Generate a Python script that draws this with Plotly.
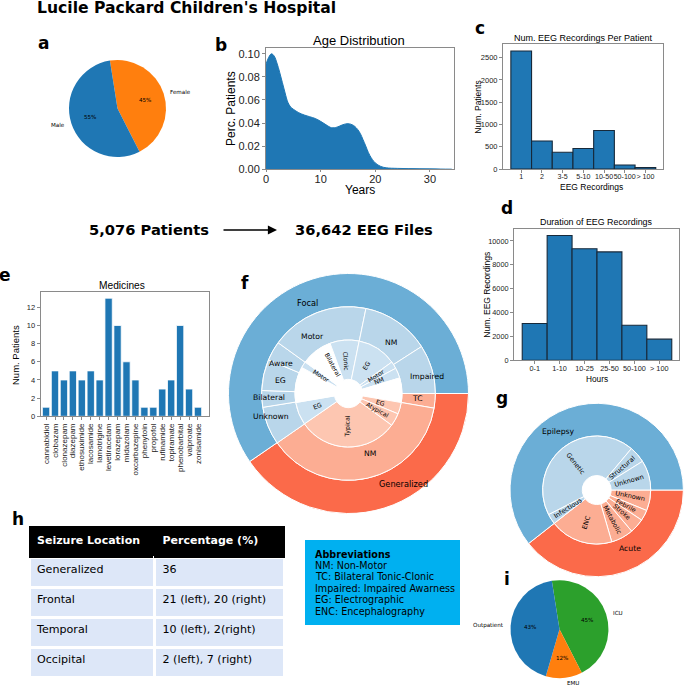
import math
import plotly.graph_objects as go

W = H = 685

# ---------------- data ----------------
TITLE = "Lucile Packard Children's Hospital"

sex_labels = ["Male", "Female"]
sex_pct = [55, 45]

age_years = [0, 0.5, 1, 1.5, 2, 2.5, 3, 3.5, 4, 4.5, 5, 6, 7, 8, 9, 10, 11, 12, 13, 14,
             15, 16, 17, 18, 19, 20, 21, 22, 24, 26, 28, 30, 32, 34]
age_density = [0.091, 0.097, 0.100, 0.098, 0.092, 0.084, 0.075, 0.066, 0.058, 0.054, 0.052,
               0.049, 0.047, 0.0455, 0.044, 0.0415, 0.0385, 0.036, 0.0365, 0.0385, 0.0395,
               0.038, 0.033, 0.023, 0.012, 0.0055, 0.0025, 0.0013, 0.0008, 0.0006, 0.0005,
               0.0004, 0.0002, 0.0001]

recs_cats = ["1", "2", "3-5", "5-10", "10-50", "50-100", "> 100"]
recs_patients = [2650, 630, 375, 460, 865, 90, 35]

dur_cats = ["0-1", "1-10", "10-25", "25-50", "50-100", "> 100"]
dur_counts = [3080, 10450, 9350, 9080, 2940, 1770]

med_names = ["cannabidiol", "clobazam", "clonazepam", "diazepam", "ethosuximide", "lacosamide",
             "lamotrigine", "levetiracetam", "lorazepam", "midazolam", "oxcarbazepine",
             "phenytoin", "propofol", "rufinamide", "topiramate", "phenobarbital", "valproate",
             "zonisamide"]
med_counts = [1, 5, 4, 5, 4, 5, 4, 13, 10, 6, 4, 1, 1, 3, 4, 10, 3, 1]

# panel f: nested seizure types (outer ring = level 1)
f_outer_labels = ["Focal", "Generalized"]
f_outer_vals = [59.6, 40.4]
f_mid_labels = ["Impaired", "NM", "Motor", "Aware", "EG", "Bilateral", "Unknown", "NM", "TC"]
f_mid_vals = [9.1, 12.7, 18.3, 3.6, 5.8, 3.1, 7.1, 37.7, 2.7]
f_mid_group = ["F", "F", "F", "F", "F", "F", "F", "G", "G"]
f_in_labels = ["", "NM", "Motor", "EG", "Clonic", "Bilateral", "", "Motor", "", "EG",
               "Typical", "Atypical", "EG", ""]
f_in_vals = [4.7, 3.1, 2.2, 11.8, 8.8, 4.7, 4.7, 1.9, 10.8, 6.9, 30.3, 3.9, 3.5, 2.7]
f_in_group = ["W", "F", "F", "F", "F", "W", "W", "F", "W", "F", "G", "G", "G", "W"]

# panel g: epilepsy vs acute aetiologies
g_outer_labels = ["Epilepsy", "Acute"]
g_outer_vals = [60.6, 39.4]
g_in_labels = ["Unknown", "Structural", "Genetic", "Infectious", "ENC", "Metabolic", "Stroke",
               "Febrile", "Unknown"]
g_in_vals = [8.9, 5.0, 43.6, 3.1, 18.9, 6.7, 4.4, 3.2, 6.2]
g_in_group = ["F", "F", "F", "F", "G", "G", "G", "G", "G"]

# panel i: recording location
loc_labels = ["Outpatient", "EMU", "ICU"]
loc_pct = [43, 12, 45]

# panel h: table
table_locations = ["Generalized", "Frontal", "Temporal", "Occipital"]
table_percent = ["36", "21 (left), 20 (right)", "10 (left), 2(right)", "2 (left), 7 (right)"]

abbreviations = ["NM: Non-Motor", "TC: Bilateral Tonic-Clonic", "Impaired: Impaired Awarness",
                 "EG: Electrographic", "ENC: Encephalography"]

n_patients = "5,076 Patients"
n_files = "36,642 EEG Files"

# ---------------- style ----------------
BLUE = "#1f77b4"
ORANGE = "#ff7f0e"
GREEN = "#2ca02c"
OUT_COL = {"F": "#6baed6", "G": "#fb6a4a"}
MID_COL = {"F": "#b9d6ea", "G": "#fcad93", "W": "white"}
IN_COL = {"F": "#cbe1f1", "G": "#fdc6b1", "W": "white"}
SANS = "Liberation Sans, Arial, sans-serif"
DV = "DejaVu Sans, sans-serif"
GRAY = "#8a8a8a"


def X(p):
    return p / W


def Y(p):
    return 1 - p / H


def polar_pt(cx, cy, r, deg):
    t = math.radians(deg)
    return X(cx + r * math.cos(t)), Y(cy - r * math.sin(t))


def mids(vals, start):
    tot = float(sum(vals))
    out, a = [], start
    for v in vals:
        s = 360.0 * v / tot
        out.append(a + s / 2)
        a += s
    return out


fig = go.Figure()
ann = []


def text(x, y, s, size, family=DV, xa="center", ya="middle", angle=0, color="black", bold=False):
    ann.append(dict(x=X(x), y=Y(y), xref="paper", yref="paper", text=("<b>%s</b>" % s) if bold else s,
                    showarrow=False, xanchor=xa, yanchor=ya, textangle=angle,
                    font=dict(size=size, family=family, color=color)))


def pie_ring(vals, colors, cx, cy, r_out, r_in, start_deg, lw=1.0):
    """Slices run counterclockwise from start_deg (measured ccw from 3 o'clock)."""
    fig.add_trace(go.Pie(values=list(reversed(vals)),
                         marker=dict(colors=list(reversed(colors)), line=dict(color="white", width=lw)),
                         hole=(r_in / r_out) if r_in else 0, sort=False, direction="clockwise",
                         rotation=90 - start_deg, textinfo="none", hoverinfo="skip", showlegend=False,
                         domain=dict(x=[X(cx - r_out), X(cx + r_out)], y=[Y(cy + r_out), Y(cy - r_out)])))


def flat_labels(labels, vals, cx, cy, r, start, size):
    for lab, m in zip(labels, mids(vals, start)):
        if not lab:
            continue
        x, y = polar_pt(cx, cy, r, m)
        ann.append(dict(x=x, y=y, xref="paper", yref="paper", text=lab, showarrow=False,
                        xanchor="left" if math.cos(math.radians(m)) > 0 else "right",
                        yanchor="middle", font=dict(size=size, family=DV, color="black")))


def radial_labels(labels, vals, cx, cy, r, start, size):
    for lab, m in zip(labels, mids(vals, start)):
        if not lab:
            continue
        x, y = polar_pt(cx, cy, r, m)
        ang = -m if math.cos(math.radians(m)) > 0 else 180 - m
        ang = (ang + 180) % 360 - 180
        ann.append(dict(x=x, y=y, xref="paper", yref="paper", text=lab, showarrow=False,
                        xanchor="center", yanchor="middle", textangle=ang,
                        font=dict(size=size, family=DV, color="black")))


def simple_pie(labels, vals, colors, cx, cy, r, start_deg):
    pie_ring(vals, colors, cx, cy, r, 0, start_deg, lw=0)
    for lab, v, m in zip(labels, vals, mids(vals, start_deg)):
        x, y = polar_pt(cx, cy, 1.1 * r, m)
        ann.append(dict(x=x, y=y, xref="paper", yref="paper", text=lab, showarrow=False,
                        xanchor="left" if math.cos(math.radians(m)) > 0 else "right",
                        yanchor="middle", font=dict(size=5.6, family=DV, color="black")))
        x, y = polar_pt(cx, cy, 0.6 * r, m)
        ann.append(dict(x=x, y=y, xref="paper", yref="paper", text="%d%%" % v, showarrow=False,
                        xanchor="center", yanchor="middle", font=dict(size=5.6, family=DV, color="black")))


# ---- panel a
simple_pie(sex_labels, sex_pct, [BLUE, ORANGE], 117.5, 108.5, 48.5, 99)

# ---- panel b
fig.add_trace(go.Scatter(x=age_years, y=age_density, mode="lines", fill="tozeroy",
                         line=dict(color=BLUE, width=1, shape="spline"), fillcolor=BLUE,
                         hoverinfo="skip", showlegend=False, xaxis="x", yaxis="y"))

# ---- panel c
fig.add_trace(go.Bar(x=recs_cats, y=recs_patients, width=1,
                     marker=dict(color=BLUE, line=dict(color="#17293a", width=1.1)),
                     hoverinfo="skip", showlegend=False, xaxis="x2", yaxis="y2"))

# ---- panel d
fig.add_trace(go.Bar(x=dur_cats, y=dur_counts, width=1,
                     marker=dict(color=BLUE, line=dict(color="#17293a", width=1.1)),
                     hoverinfo="skip", showlegend=False, xaxis="x3", yaxis="y3"))

# ---- panel e
fig.add_trace(go.Bar(x=med_names, y=med_counts, width=0.82,
                     marker=dict(color=BLUE, line=dict(color="white", width=0.8)),
                     hoverinfo="skip", showlegend=False, xaxis="x4", yaxis="y4"))

# ---- panel f
FCX, FCY = 348.5, 393.5
F_R = [14.2, 53.5, 86.8, 120]
pie_ring(f_outer_vals, [OUT_COL[g] for g in ["F", "G"]], FCX, FCY, F_R[3], F_R[2], 0)
pie_ring(f_mid_vals, [MID_COL[g] for g in f_mid_group], FCX, FCY, F_R[2], F_R[1], 0)
pie_ring(f_in_vals, [IN_COL[g] for g in f_in_group], FCX, FCY, F_R[1], F_R[0], 0)
flat_labels(f_outer_labels, f_outer_vals, FCX, FCY, 95, 0, 8.2)
flat_labels(f_mid_labels, f_mid_vals, FCX, FCY, 61.5, 0, 7.7)
radial_labels(f_in_labels, f_in_vals, FCX, FCY, 33, 0, 6.2)

# ---- panel g
GCX, GCY = 596.7, 490
G_R = [14.5, 54, 86.7]
pie_ring(g_outer_vals, [OUT_COL[g] for g in ["F", "G"]], GCX, GCY, G_R[2], G_R[1], 0)
pie_ring(g_in_vals, [MID_COL[g] for g in g_in_group], GCX, GCY, G_R[1], G_R[0], 0)
flat_labels(g_outer_labels, g_outer_vals, GCX, GCY, 61.6, 0, 7.7)
radial_labels(g_in_labels, g_in_vals, GCX, GCY, 33.5, 0, 6.5)

# ---- panel i
simple_pie(loc_labels, loc_pct, [BLUE, ORANGE, GREEN], 559.5, 629.2, 49, 99)

# ---- panel h table
fig.add_trace(go.Table(
    domain=dict(x=[X(29), X(285)], y=[Y(682), Y(526)]),
    columnwidth=[126, 130],
    header=dict(values=["<b>Seizure Location</b>", "<b>Percentage (%)</b>"], fill_color="black",
                line=dict(color="black", width=1), align="left", height=31,
                font=dict(color="white", size=11, family=DV)),
    cells=dict(values=[table_locations, table_percent], fill_color="#dde7f8",
               line=dict(color="white", width=3), align="left", height=30,
               font=dict(color="black", size=11.1, family=DV))))

# ---- texts
text(187, 8.5, TITLE, 15.6, bold=True)
for lab, (lx, ly) in zip("abcdefghi", [(43, 43), (220.5, 45), (480, 28), (506.7, 207.5), (5, 275),
                                        (245, 282.5), (501.7, 398), (17.5, 519), (507, 579)]):
    text(lx, ly, lab, 17, bold=True)

text(148.5, 229, n_patients, 14.7, bold=True)
text(364.3, 229, n_files, 14.7, bold=True)
ann.append(dict(x=X(277), y=Y(230), xref="paper", yref="paper", ax=-55, ay=0, text="",
                showarrow=True, arrowhead=2, arrowsize=1.4, arrowwidth=1.3, arrowcolor="black"))

# panel titles / axis titles
text(359, 40, "Age Distribution", 13, SANS)
text(360, 190, "Years", 12, SANS)
text(231.7, 108.3, "Perc. Patients", 12, SANS, angle=-90)

text(583, 38, "Num. EEG Recordings Per Patient", 9, SANS)
text(591.7, 186.5, "EEG Recordings", 8.5, SANS)
text(478, 106.7, "Num. Patients", 8.5, SANS, angle=-90)

text(596.7, 222, "Duration of EEG Recordings", 8.9, SANS)
text(596.7, 378.5, "Hours", 8.3, SANS)
text(486.7, 295, "Num. EEG Recordings", 8.5, SANS, angle=-90)

text(121.7, 285.7, "Medicines", 10.2, SANS)
text(15, 355, "Num. Patients", 9.5, SANS, angle=-90)

# abbreviations box
fig.add_shape(type="rect", xref="paper", yref="paper", x0=X(305), x1=X(460), y0=Y(625), y1=Y(540),
              fillcolor="#00b0f0", line=dict(width=0), layer="below")
text(313.3, 554, "Abbreviations", 9.6, bold=True, xa="left")
for i, s in enumerate(abbreviations):
    text(313.3, 565.3 + i * 11.5, s, 9.6, xa="left")


def ax_common(size, **kw):
    d = dict(showline=True, mirror=True, linecolor=GRAY, linewidth=1, ticks="outside", ticklen=3,
             tickcolor=GRAY, showgrid=False, zeroline=False,
             tickfont=dict(size=size, family=SANS, color="#222"))
    d.update(kw)
    return d


layout_axes = dict(
    xaxis=ax_common(11, domain=[X(266), X(454)], anchor="y", range=[0, 34.4], tickvals=[0, 10, 20, 30],
                    ticklen=2, ticklabelstandoff=-3),
    yaxis=ax_common(11, domain=[Y(169.3), Y(48)], anchor="x", range=[0, 0.105],
                    tickvals=[0, 0.02, 0.04, 0.06, 0.08, 0.10], tickformat=".2f"),
    xaxis2=ax_common(7.1, domain=[X(503), X(663)], anchor="y2", type="category", range=[-0.88, 6.85],
                     tickangle=0, tickmode="linear", tick0=0, dtick=1, ticklabelstandoff=-3),
    yaxis2=ax_common(7.5, domain=[Y(169), Y(44)], anchor="x2", range=[0, 2808],
                     tickvals=[0, 500, 1000, 1500, 2000, 2500]),
    xaxis3=ax_common(7.3, domain=[X(514), X(679)], anchor="y3", type="category", range=[-0.83, 5.79],
                     tickangle=0, tickmode="linear", tick0=0, dtick=1, ticklabelstandoff=-2),
    yaxis3=ax_common(7.3, domain=[Y(360.3), Y(229)], anchor="x3", range=[0, 11000],
                     tickvals=[0, 2000, 4000, 6000, 8000, 10000], tickformat="d"),
    xaxis4=ax_common(8, domain=[X(40.7), X(208.7)], anchor="y4", type="category", range=[-0.6, 18.2],
                     tickangle=-90, tickmode="linear", tick0=0, dtick=1),
    yaxis4=ax_common(7.5, domain=[Y(416.3), Y(292.3)], anchor="x4", range=[0, 13.65],
                     tickvals=[0, 2, 4, 6, 8, 10, 12]),
)

fig.update_layout(width=W, height=H, margin=dict(l=0, r=0, t=0, b=0), template="none",
                  paper_bgcolor="white", plot_bgcolor="white", showlegend=False,
                  annotations=ann, **layout_axes)
fig.update_xaxes(fixedrange=True)
fig.update_yaxes(fixedrange=True)

fig.write_html("out.html")
